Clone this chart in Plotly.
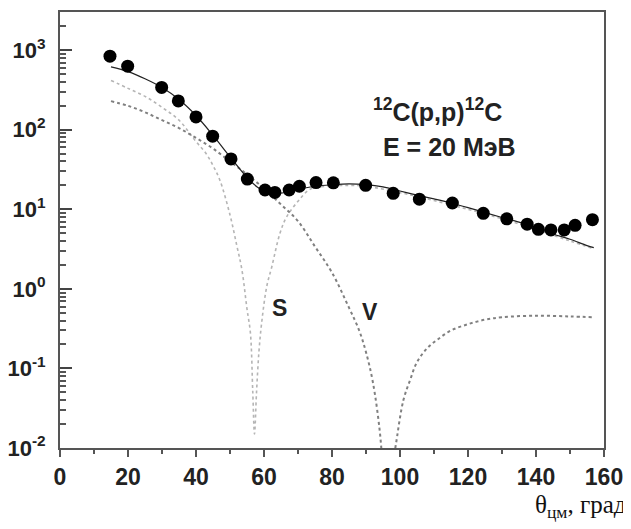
import plotly.graph_objects as go

# Experimental data
theta_exp = [14.7, 19.9, 29.9, 34.8, 40.0, 44.9, 50.3, 55.1, 60.3, 63.2, 67.4, 70.4, 75.3,
             80.4, 89.9, 98.0, 105.7, 115.4, 124.5, 131.4, 137.4, 140.7, 144.4, 148.3,
             151.5, 156.6]
sigma_exp = [840, 630, 340, 230, 145, 83, 43, 24, 17.5, 16.3, 17.5, 19.5, 21.7,
             21.5, 20.0, 15.9, 13.4, 12.0, 8.9, 7.6, 6.5, 5.6, 5.5, 5.5,
             6.3, 7.4]

# Total calculation (solid)
theta_tot = [15, 20, 25, 30, 35, 40, 45, 50, 55, 58, 60, 63, 66, 70, 75, 80, 85, 90, 95,
             100, 105, 110, 115, 120, 125, 130, 135, 140, 145, 150, 155, 157]
sigma_tot = [617, 537, 437, 339, 240, 151, 85, 45.7, 25.1, 19.1, 17.0, 15.8, 16.2, 17.8,
             19.5, 20.4, 20.9, 20.4, 19.1, 17.0, 15.1, 13.5, 12.0, 10.5, 9.1, 7.9, 6.9,
             5.9, 4.9, 4.2, 3.5, 3.3]

# V component (dotted, darker)
theta_v = [15, 20, 25, 30, 35, 40, 45, 50, 55, 60, 65, 70, 75, 80, 85, 88, 90, 92, 94, 95,
           96, 97.5, 98.5, 99, 101, 103, 105, 108, 111, 115, 120, 125, 130, 140, 150, 157]
sigma_v = [229, 200, 166, 132, 105, 79, 58, 40, 27.5, 18.2, 11.5, 7.1, 3.4, 1.6, 0.58,
           0.30, 0.16, 0.068, 0.017, 0.005, 0.001, 0.001, 0.0089, 0.0126, 0.04, 0.072,
           0.12, 0.18, 0.23, 0.30, 0.36, 0.41, 0.44, 0.46, 0.45, 0.44]

# S component (dotted, light)
theta_s = [15, 20, 25, 30, 35, 40, 43, 45, 47, 50, 52, 53.5, 55, 56, 56.7, 57.2, 57.8,
           58.5, 59.3, 60.8, 62.3, 64.7, 66.7, 70, 73.5, 78, 85, 90, 100, 110, 120, 130,
           140, 150, 157]
sigma_s = [417, 331, 263, 191, 132, 71, 50, 35.5, 23.4, 8.5, 3.5, 1.74, 0.56, 0.28, 0.05,
           0.015, 0.05, 0.16, 0.37, 1.07, 1.9, 5.0, 8.1, 12.6, 17.8, 19.5, 20.0, 19.5,
           16.2, 12.9, 10.0, 7.6, 5.6, 4.0, 3.2]

# Axis ticks
y_exponents = [-2, -1, 0, 1, 2, 3]
y_tickvals = [10.0 ** e for e in y_exponents]
y_ticktext = ["10<sup>%d</sup>" % e for e in y_exponents]
y_minor = [m * 10.0 ** e for e in y_exponents for m in range(2, 10)]

fig = go.Figure()
fig.add_trace(go.Scatter(x=theta_s, y=sigma_s, mode="lines",
                         line=dict(color="#b5b5b5", width=1.6, dash="dot", shape="spline"),
                         showlegend=False))
fig.add_trace(go.Scatter(x=theta_v, y=sigma_v, mode="lines",
                         line=dict(color="#808080", width=2, dash="dot", shape="spline"),
                         showlegend=False))
fig.add_trace(go.Scatter(x=theta_tot, y=sigma_tot, mode="lines",
                         line=dict(color="#222222", width=1.2, shape="spline"),
                         showlegend=False))
fig.add_trace(go.Scatter(x=theta_exp, y=sigma_exp, mode="markers",
                         marker=dict(color="black", size=13),
                         showlegend=False, cliponaxis=False))

SANS = "Liberation Sans, Arial"
tickfont = dict(family=SANS, size=23, color="#222", weight="bold")

fig.update_xaxes(range=[0, 160], dtick=20, tick0=0, showgrid=False, zeroline=False,
                 showline=True, linecolor="#555", linewidth=2, mirror=True,
                 ticks="outside", ticklen=7, tickwidth=2, tickcolor="#555",
                 minor=dict(ticks="outside", ticklen=4, tickwidth=2, tickcolor="#555", dtick=10),
                 tickfont=tickfont, automargin=False)
fig.update_yaxes(type="log", range=[-2, 3.48], tickmode="array",
                 tickvals=y_tickvals, ticktext=y_ticktext,
                 showgrid=False, zeroline=False,
                 showline=True, linecolor="#555", linewidth=2, mirror=True,
                 ticks="inside", ticklen=12, tickwidth=2, tickcolor="#444",
                 minor=dict(ticks="inside", ticklen=6, tickwidth=1.5, tickcolor="#555",
                            tickmode="array", tickvals=y_minor),
                 tickfont=dict(family=SANS, size=22, color="#222", weight="bold"),
                 ticklabelstandoff=8, automargin=False)

afont = dict(family=SANS, size=25, color="#222", weight="bold")
fig.add_annotation(x=110.9, y=2.245, xref="x", yref="y", showarrow=False,
                   text="<sup>12</sup>C(p,p)<sup>12</sup>C", font=afont)
fig.add_annotation(x=114.7, y=1.78, xref="x", yref="y", showarrow=False,
                   text="E = 20 МэВ", font=afont)
fig.add_annotation(x=64.7, y=-0.24, xref="x", yref="y", showarrow=False,
                   text="S", font=dict(family=SANS, size=23, color="#222", weight="bold"))
fig.add_annotation(x=91.2, y=-0.29, xref="x", yref="y", showarrow=False,
                   text="V", font=dict(family=SANS, size=23, color="#222", weight="bold"))

# page has an 8px body margin; figure occupies page pixels 8..631 x 8..529
off = 8
W, H = 631 - off, 529 - off
ml, mr, mt, mb = 60 - off, 631 - 604, 12 - off, 529 - 448
plot_w = W - ml - mr
plot_h = H - mt - mb
fig.add_annotation(x=(629 - 60) / plot_w, y=-(507 - 448) / plot_h, xref="paper", yref="paper",
                   showarrow=False, text="θ<sub>цм</sub>, град",
                   xanchor="right", yanchor="middle",
                   font=dict(family="Liberation Serif, Times New Roman", size=25, color="#111"))

fig.update_layout(width=W, height=H, margin=dict(l=ml, r=mr, t=mt, b=mb),
                  paper_bgcolor="white", plot_bgcolor="white")

fig.write_html("out.html")
